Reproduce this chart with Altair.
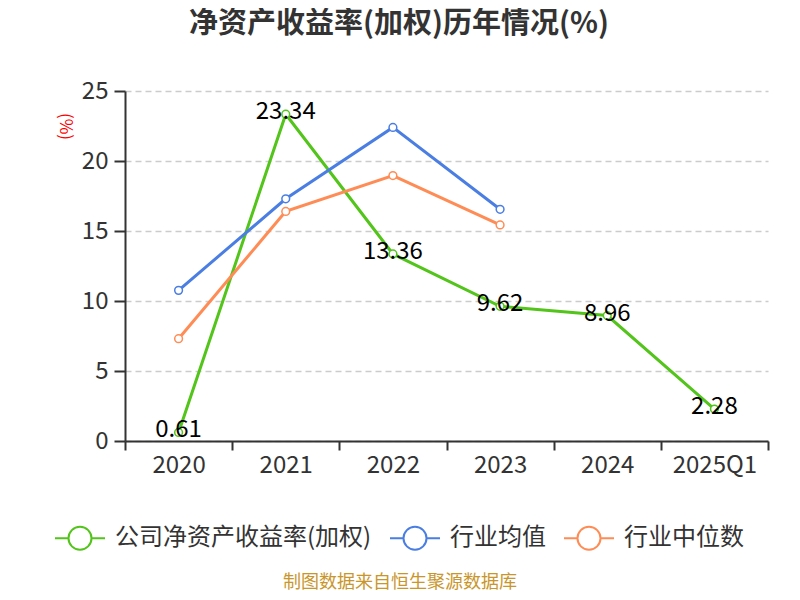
import altair as alt
import pandas as pd

categories = ["2020", "2021", "2022", "2023", "2024", "2025Q1"]
company = [0.61, 23.34, 13.36, 9.62, 8.96, 2.28]
industry_avg = [10.76, 17.3, 22.4, 16.55, None, None]
industry_median = [7.31, 16.4, 18.96, 15.43, None, None]
series_names = ["公司净资产收益率(加权)", "行业均值", "行业中位数"]
series_colors = ["#52c41a", "#4a7ee3", "#ff8c55"]
title_text = "净资产收益率(加权)历年情况(%)"
source_text = "制图数据来自恒生聚源数据库"

rows = []
for vals, name in zip([company, industry_avg, industry_median], series_names):
    for c, v in zip(categories, vals):
        if v is not None:
            rows.append({"cat": c, "value": v, "series": name})
df = pd.DataFrame(rows)
df_company = df[df["series"] == series_names[0]].copy()
df_company["label"] = df_company["value"].map(lambda v: f"{v:.2f}")

FONT = "Noto Sans CJK SC"
sym = "M-1,0L-0.46,0M0.46,0L1,0M0.46,0A0.46,0.46,0,1,1,-0.46,0A0.46,0.46,0,1,1,0.46,0"

x = alt.X("cat:N", sort=categories, title=None,
          scale=alt.Scale(paddingInner=0, paddingOuter=0),
          axis=alt.Axis(labelAngle=0, labelFontSize=24, labelColor="#333333",
                        labelFont=FONT, labelPadding=3,
                        domainColor="#333333", domainWidth=2,
                        tickColor="#333333", tickWidth=2, tickSize=9,
                        tickBand="extent", grid=False))
y = alt.Y("value:Q", title="(%)",
          scale=alt.Scale(domain=[0, 25], nice=False),
          axis=alt.Axis(values=[0, 5, 10, 15, 20, 25], labelFontSize=24,
                        labelColor="#333333", labelFont=FONT, labelPadding=6,
                        domainColor="#333333", domainWidth=2,
                        tickColor="#333333", tickWidth=2, tickSize=11,
                        grid=True, gridDash=[6, 4], gridColor="#cccccc", gridWidth=1.5,
                        titleColor="red", titleFontSize=17, titleFontWeight="normal",
                        titleFont=FONT, titleAngle=90, titleX=-70, titleY=35))
color = alt.Color("series:N", sort=series_names,
                  scale=alt.Scale(domain=series_names, range=series_colors),
                  legend=alt.Legend(title=None, orient="none", direction="horizontal",
                                    legendX=-71, legendY=421,
                                    symbolType=sym, symbolSize=2500,
                                    symbolStrokeWidth=2, symbolFillColor="white",
                                    labelFontSize=24, labelColor="#333333",
                                    labelFont=FONT, labelLimit=400,
                                    columnPadding=14, labelOffset=9))

lines = alt.Chart(df).mark_line(strokeWidth=3).encode(x=x, y=y, color=color)
points = alt.Chart(df).mark_point(filled=True, fill="white", size=60,
                                  strokeWidth=1.5, opacity=1).encode(
    x=x, y=y, stroke=alt.Stroke("series:N", scale=alt.Scale(domain=series_names, range=series_colors), legend=None))
labels = alt.Chart(df_company).mark_text(fontSize=24, font=FONT, color="black",
                                         baseline="middle", dy=-2).encode(
    x=x, y=y, text="label:N")

title_df = pd.DataFrame({"t": [title_text]})
title = alt.Chart(title_df).mark_text(fontSize=29, font=FONT, fontWeight="bold",
                                      color="#333333", baseline="middle").encode(
    text="t:N", x=alt.value(274), y=alt.value(-67))

source_df = pd.DataFrame({"t": [source_text]})
source = alt.Chart(source_df).mark_text(fontSize=18, font=FONT, color="#c9962b",
                                        baseline="middle").encode(
    text="t:N", x=alt.value(275), y=alt.value(492))

chart = alt.layer(lines, points, labels, title, source).properties(
    width=643, height=350,
    autosize=alt.AutoSizeParams(type="none"),
    padding={"left": 117, "top": 83, "right": 24, "bottom": 151},
).configure_view(stroke=None)

chart.save("out.html", embed_options={"renderer": "svg", "actions": False})
